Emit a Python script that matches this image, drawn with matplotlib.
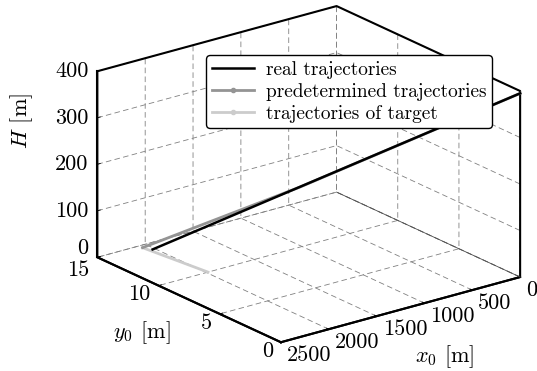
import numpy as np
import matplotlib
matplotlib.use('Agg')
import matplotlib.pyplot as plt
from mpl_toolkits.mplot3d import proj3d

plt.rcParams['font.family'] = 'cmr10'
plt.rcParams['mathtext.fontset'] = 'cm'
plt.rcParams['axes.formatter.use_mathtext'] = True
plt.rcParams['grid.linestyle'] = '--'
plt.rcParams['grid.color'] = '0.5'
plt.rcParams['grid.linewidth'] = 0.6
plt.rcParams['lines.scale_dashes'] = False
plt.rcParams['lines.dashed_pattern'] = [4, 2.4]

# achsen
x_ticks = [0, 500, 1000, 1500, 2000, 2500]
y_ticks = [0, 5, 10, 15]
h_ticks = [0, 100, 200, 300, 400]

# trajektorien (aus dem bild geschaetzt)
real_x = [2025, 0]
real_y = [14.2, 0]
real_h = [0, 395]

pred_x = [2066, 1215, 0]
pred_y = [14.7, 8.5, 0]
pred_h = [0, 158, 395]

target_x = [2066, 1983]
target_y = [14.7, 10.0]
target_h = [0, 0]

labels = ['real trajectories', 'predetermined trajectories', 'trajectories of target']

W, HP = 537, 371
fig = plt.figure(figsize=(W / 100, HP / 100), dpi=100)
ax = fig.add_axes([0.1, 0.1, 0.8, 0.8], projection='3d')
ax.set_proj_type('ortho')
ax.view_init(elev=20.8, azim=-127.5)
ax.set_box_aspect((1, 1, 0.66))
ax.set_xlim(x_ticks[-1], x_ticks[0])
ax.set_ylim(y_ticks[0], y_ticks[-1])
ax.set_zlim(h_ticks[0], h_ticks[-1])
ax.set_xticks(x_ticks)
ax.set_yticks(y_ticks)
ax.set_zticks(h_ticks)
ax.set_xticklabels([])
ax.set_yticklabels([])
ax.set_zticklabels([])

for axis in (ax.xaxis, ax.yaxis, ax.zaxis):
    axis.set_pane_color((1, 1, 1, 1))
    axis.pane.set_edgecolor('none')
    axis.line.set_linewidth(1.5)
    axis.line.set_color('k')
    axis._axinfo['tick']['inward_factor'] = 0.0
    axis._axinfo['tick']['outward_factor'] = 0.15
    axis._axinfo['tick']['linewidth'] = {True: 0.6, False: 0.4}

# rahmen (aeussere kanten der box + duenne hintere kante)
xa, xb = x_ticks[-1], x_ticks[0]
ya, yb = y_ticks[0], y_ticks[-1]
za, zb = h_ticks[0], h_ticks[-1]
frame = [(xa, ya, za), (xb, ya, za), (xb, ya, zb), (xb, yb, zb), (xa, yb, zb), (xa, yb, za), (xa, ya, za)]
fx, fy, fz = zip(*frame)
ax.plot(fx, fy, fz, color='k', lw=1.5)
ax.plot([xb, xb], [ya, yb], [za, za], color='0.3', lw=0.6)

ax.plot(target_x, target_y, target_h, color='0.8', lw=2, marker='.', markevery=[], label=labels[2])
ax.plot(pred_x, pred_y, pred_h, color='0.58', lw=2, marker='.', markevery=[], label=labels[1])
ax.plot(real_x, real_y, real_h, color='k', lw=1.8, label=labels[0])

h, l = ax.get_legend_handles_labels()
order = [2, 1, 0]
fig.legend([h[i] for i in order], [l[i] for i in order], loc='upper right',
           bbox_to_anchor=(492 / W, 1 - 55 / HP), fontsize=13.9, fancybox=True,
           edgecolor='k', framealpha=1, labelspacing=0.2, handlelength=2.2,
           borderpad=0.3, handletextpad=0.6, borderaxespad=0)


def proj2d(x, y, z):
    x, y, z = np.broadcast_arrays(np.asarray(x, float), np.asarray(y, float), np.asarray(z, float))
    xs, ys, _ = proj3d.proj_transform(x.ravel(), y.ravel(), z.ravel(), ax.get_proj())
    return xs, ys


# ticklabels wie in matlab
fs = 16
xs, ys = proj2d(x_ticks, ya, za)
for v, px, py in zip(x_ticks, xs, ys):
    ax.annotate(str(v), (px, py), xytext=(6, -13), textcoords='offset pixels',
                ha='left', va='center', fontsize=fs)
y_shift = {15: -4}
xs, ys = proj2d(xa, y_ticks, za)
for v, px, py in zip(y_ticks, xs, ys):
    ax.annotate(str(v), (px, py), xytext=(-8, -9 + y_shift.get(v, 0)), textcoords='offset pixels',
                ha='right', va='center', fontsize=fs)
h_shift = {0: 9}
xs, ys = proj2d(xa, yb, h_ticks)
for v, px, py in zip(h_ticks, xs, ys):
    ax.annotate(str(v), (px, py), xytext=(-9, h_shift.get(v, 0)), textcoords='offset pixels',
                ha='right', va='center', fontsize=fs)

fig.text(22 / W, 1 - 121 / HP, '$H$ [m]', rotation=90, ha='center', va='center', fontsize=16)
fig.text(142 / W, 1 - 333 / HP, '$y_0$ [m]', ha='center', va='center', fontsize=16)
fig.text(445 / W, 1 - 357 / HP, '$x_0$ [m]', ha='center', va='center', fontsize=16)

# box an die ecken im bild anpassen
corners = np.array([[xa, ya, za], [xb, ya, za], [xa, yb, za], [xa, yb, zb],
                    [xb, yb, zb], [xb, ya, zb], [xb, yb, za]], float)
corners_img = np.array([[281, 342], [520, 277], [97, 257], [97, 71],
                        [337, 6], [520, 92], [337, 192]], float)
target = np.column_stack([corners_img[:, 0], HP - corners_img[:, 1]])

fig.canvas.draw()
cx, cy = proj2d(corners[:, 0], corners[:, 1], corners[:, 2])
P = ax.transData.transform(np.column_stack([cx, cy]))
Pm, Tm = P.mean(0), target.mean(0)
s = np.sum((P - Pm) * (target - Tm)) / np.sum((P - Pm) ** 2)
t = Tm - s * Pm
bb = ax.get_position().transformed(fig.transFigure)
ax.set_position([(s * bb.x0 + t[0]) / W, (s * bb.y0 + t[1]) / HP,
                 s * bb.width / W, s * bb.height / HP])

fig.savefig('out.png', dpi=100)
